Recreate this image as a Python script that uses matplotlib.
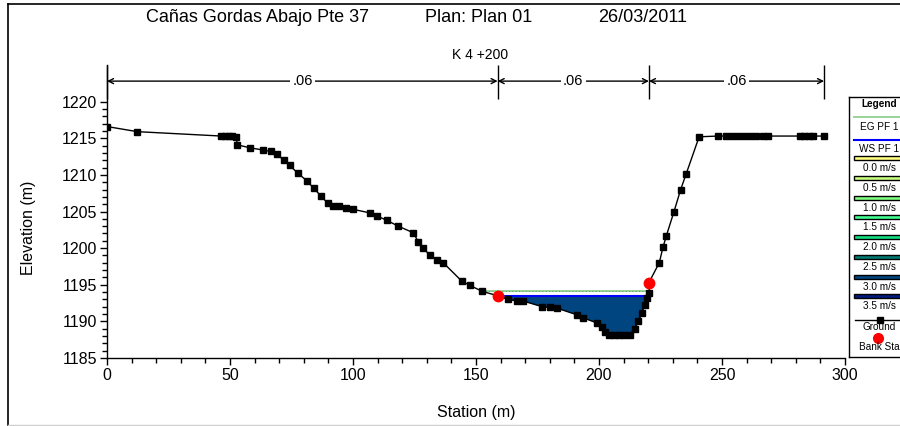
import matplotlib
matplotlib.use("Agg")
import matplotlib.pyplot as plt
import numpy as np
from matplotlib.lines import Line2D
from matplotlib.patches import Rectangle
from matplotlib.ticker import MultipleLocator, FixedLocator

plt.rcParams['font.family'] = ['Liberation Sans', 'DejaVu Sans']

# ground profile (station, elevation)
station = [0, 12.3, 46.5, 48, 49.5, 51, 52.5, 53, 58, 63.3, 66.5, 69, 71.8, 74.2,
           77.7, 81.2, 84, 87, 89.8, 92, 94.5, 97, 100, 107, 109.7, 113.7, 118.4,
           124.5, 126.5, 128.6, 131.3, 134, 136.7, 144.2, 147.6, 152.5, 158.8,
           163, 166.5, 169, 177, 180, 183, 191, 193.5, 199, 201.2, 202.5, 204,
           206, 208, 210, 212.5, 214.5, 216, 217.3, 218.5, 219.4, 220.5, 220.3,
           224.5, 226, 227.3, 230.5, 233.2, 235.4, 240.7, 248.5, 251.5, 254,
           256.5, 259, 261.5, 264, 266.5, 268.7, 281.7, 283.5, 285.3, 287, 291.5]
elevation = [1216.6, 1215.9, 1215.3, 1215.3, 1215.3, 1215.3, 1215.2, 1214.1, 1213.7,
             1213.4, 1213.2, 1212.9, 1212.0, 1211.3, 1210.2, 1209.2, 1208.2, 1207.1,
             1206.1, 1205.8, 1205.7, 1205.5, 1205.3, 1204.8, 1204.4, 1203.8, 1203.0,
             1202.1, 1200.9, 1200.0, 1199.0, 1198.4, 1198.0, 1195.5, 1194.9, 1194.1,
             1193.5, 1193.0, 1192.8, 1192.8, 1192.0, 1191.9, 1191.8, 1190.9, 1190.5,
             1189.8, 1189.2, 1188.6, 1188.2, 1188.2, 1188.2, 1188.2, 1188.2, 1189.0,
             1190.0, 1191.1, 1192.2, 1193.2, 1193.9, 1195.3, 1198.0, 1200.1, 1201.6,
             1205.0, 1208.0, 1210.1, 1215.2, 1215.3, 1215.3, 1215.3, 1215.3, 1215.3,
             1215.3, 1215.3, 1215.3, 1215.3, 1215.3, 1215.3, 1215.3, 1215.3, 1215.3]

bank_sta = [158.8, 220.3]
bank_elev = [1193.5, 1195.3]
ws_elev = 1193.5
ws_extent = [158.8, 219.6]
eg_elev = 1194.1
eg_extent = [152.5, 220.4]

n_breaks = [0, 158.8, 220.3, 291.5]
n_values = [".06", ".06", ".06"]

vel_labels = ["0.0 m/s", "0.5 m/s", "1.0 m/s", "1.5 m/s",
              "2.0 m/s", "2.5 m/s", "3.0 m/s", "3.5 m/s"]
vel_colors = ["#ffff80", "#c8ff80", "#80ff80", "#40ff90",
              "#10e080", "#007a70", "#00457f", "#001a80"]
water_color = "#00457f"

W, H = 900, 426
def fx(px):
    return px / W
def fy(py):
    return 1 - py / H

fig = plt.figure(figsize=(9, 4.26), dpi=100)
ax = fig.add_axes([fx(107), fy(358), (845 - 107) / W, (358 - 65) / H])

st = np.array(station)
el = np.array(elevation)
ax.fill_between(st, el, ws_elev, where=(el <= ws_elev) & (st >= bank_sta[0]) & (st <= bank_sta[1]),
                interpolate=True, color=water_color, lw=0)
ax.plot(eg_extent, [eg_elev, eg_elev], color="#9ad49a", lw=1.4)
ax.plot(eg_extent, [eg_elev, eg_elev], color="#4a8a4a", lw=0.6, ls=(0, (1, 3)))
ax.plot(ws_extent, [ws_elev, ws_elev], color="#0000ff", lw=1.5)
ax.plot(st, el, color="black", lw=1, marker="s", ms=5)
ax.plot(bank_sta, bank_elev, ls="none", marker="o", ms=7.5, color="red")

# manning's n bars
ax.vlines(n_breaks, 1220.3, 1225, color="black", lw=1, clip_on=False)
for i, n in enumerate(n_values):
    a, b = n_breaks[i], n_breaks[i + 1]
    ax.annotate("", xy=(a, 1222.8), xytext=(b, 1222.8),
                arrowprops=dict(arrowstyle="<->", lw=1, color="black",
                                shrinkA=0, shrinkB=0, mutation_scale=9))
    ax.text((a + b) / 2, 1222.8, n, ha="center", va="center", fontsize=10.5,
            bbox=dict(facecolor="white", edgecolor="none", pad=1.5))

ax.set_xlim(0, 300)
ax.set_ylim(1185, 1225)
ax.spines["top"].set_visible(False)
ax.spines["right"].set_visible(False)
for s in ("left", "bottom"):
    ax.spines[s].set_linewidth(1)
ax.xaxis.set_major_locator(MultipleLocator(50))
ax.xaxis.set_minor_locator(MultipleLocator(10))
ax.yaxis.set_major_locator(FixedLocator(np.arange(1185, 1221, 5)))
ax.yaxis.set_minor_locator(FixedLocator(np.arange(1185, 1221, 1)))
ax.tick_params(which="major", length=5, width=1, labelsize=11.5, pad=2)
ax.tick_params(which="minor", length=3.5, width=1)

fig.text(fx(476), fy(413), "Station (m)", ha="center", va="center", fontsize=11.5)
fig.text(fx(28), fy(228), "Elevation (m)", ha="center", va="center", rotation=90, fontsize=11.5)

fig.text(fx(146), fy(18), "Cañas Gordas Abajo Pte 37", ha="left", va="center", fontsize=13)
fig.text(fx(425), fy(18), "Plan: Plan 01", ha="left", va="center", fontsize=13)
fig.text(fx(598), fy(18), "26/03/2011", ha="left", va="center", fontsize=13)
fig.text(fx(480), fy(55), "K 4 +200", ha="center", va="center", fontsize=10)

# outer frame
fig.add_artist(Line2D([fx(8), fx(8)], [fy(4), fy(425)], color="black", lw=1.2))
fig.add_artist(Line2D([fx(8), 1], [fy(4), fy(4)], color="black", lw=1.2))
fig.add_artist(Line2D([fx(8), 1], [fy(425), fy(425)], color="#d0d0d0", lw=1))

# legend panel, pixel coordinates
lg = fig.add_axes([fx(849), fy(357), (907 - 849) / W, (357 - 97) / H])
lg.set_xlim(849, 907)
lg.set_ylim(357, 97)
lg.set_xticks([])
lg.set_yticks([])
for s in lg.spines.values():
    s.set_linewidth(1)
cx = 879
fs = 7.2
lg.text(cx, 104, "Legend", ha="center", va="center", fontsize=fs, weight="bold")
lg.plot([854, 905], [117, 117], color="#9ad49a", lw=1.4)
lg.text(cx, 127, "EG PF 1", ha="center", va="center", fontsize=fs)
lg.plot([854, 905], [140, 140], color="#0000ff", lw=1.5)
lg.text(cx, 148.5, "WS PF 1", ha="center", va="center", fontsize=fs)
for i, (lab, col) in enumerate(zip(vel_labels, vel_colors)):
    y0 = 158.3 + 19.7 * i
    lg.add_patch(Rectangle((854, y0 - 2), 52, 4, facecolor=col, edgecolor="black", lw=1))
    lg.text(cx, y0 + 10, lab, ha="center", va="center", fontsize=fs)
lg.plot([855, 905], [319.5, 319.5], color="black", lw=1)
lg.plot([880], [319.5], marker="s", ms=5, color="black")
lg.text(cx, 327, "Ground", ha="center", va="center", fontsize=fs)
lg.plot([878], [337.5], marker="o", ms=7, color="red")
lg.text(cx, 346.7, "Bank Sta", ha="center", va="center", fontsize=fs)

fig.savefig("out.png", dpi=100)
